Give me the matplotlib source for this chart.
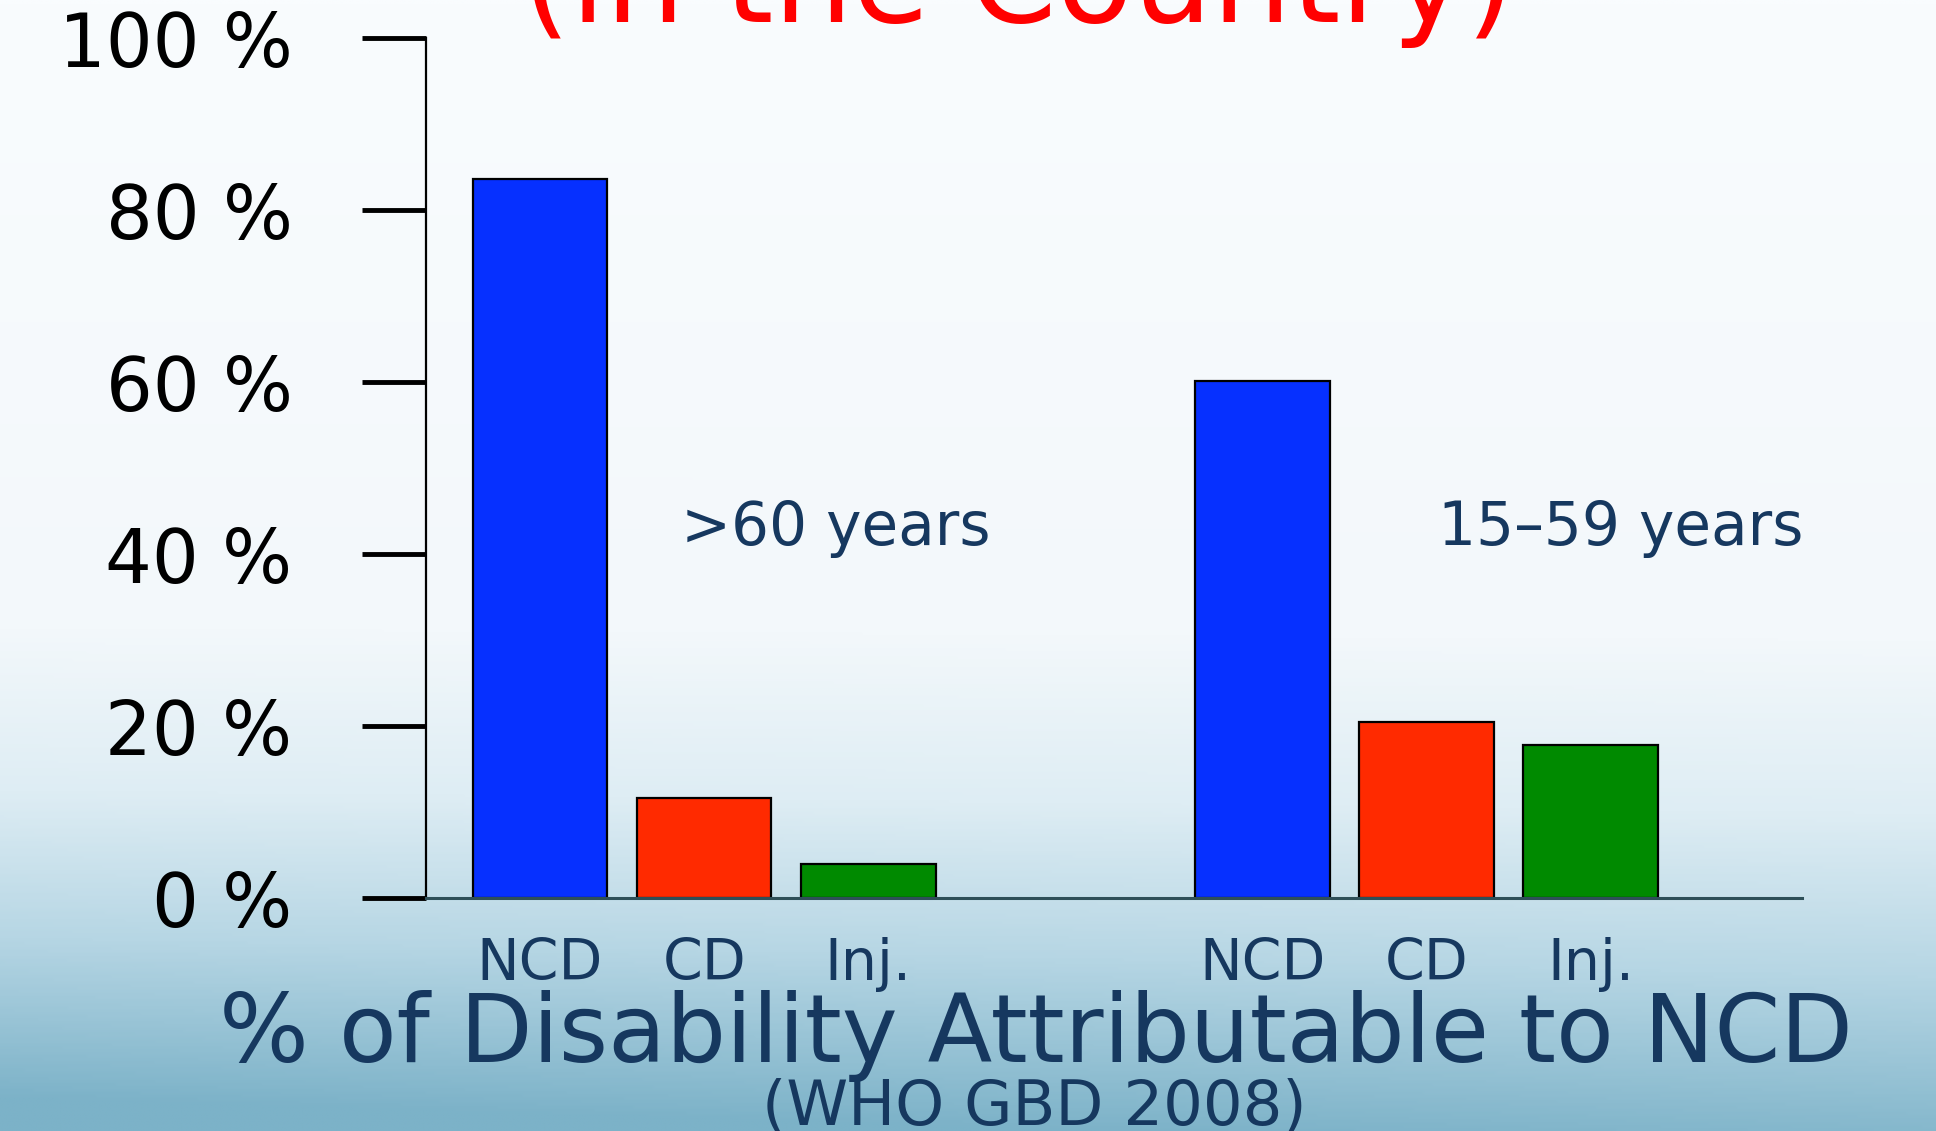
import matplotlib.pyplot as plt
import numpy as np
from matplotlib.colors import LinearSegmentedColormap

# data
categories = ["NCD", "CD", "Inj."]
groups = [">60 years", "15\u201359 years"]
over_60 = [83.6, 11.6, 3.9]
age_15_59 = [60.1, 20.5, 17.8]
group_pos = [0.0, 4.4]
yticks = [0, 20, 40, 60, 80, 100]
ytick_labels = ["0 %", "20 %", "40 %", "60 %", "80 %", "100 %"]
bar_colors = ["#0630ff", "#ff2a00", "#008a00"]
navy = "#16385f"

plt.rcParams['font.family'] = ['DejaVu Sans']

fig = plt.figure(figsize=(19.36, 11.31), dpi=100)

# slide background: pale at top, turning blue toward the bottom
bg = fig.add_axes([0, 0, 1, 1], zorder=-10)
bg.axis("off")
cmap = LinearSegmentedColormap.from_list(
    "slide", [(0.0, "#f9fcfe"), (0.55, "#f3f8fb"), (0.70, "#deedf4"),
              (0.84, "#b6d6e4"), (1.0, "#7cb2c8")])
yy, xx = np.mgrid[0:1:400j, 0:1:400j]
shade = yy + 0.06 * (1 - xx) * yy ** 3
bg.imshow(shade, cmap=cmap, aspect="auto", extent=[0, 1, 1, 0], vmin=0, vmax=1.03)
bg.set_xlim(0, 1)
bg.set_ylim(1, 0)

ax = fig.add_axes([0.220, 0.206, 0.711, 0.760])
ax.patch.set_alpha(0)

x1 = [group_pos[0] + i for i in range(3)]
x2 = [group_pos[1] + i for i in range(3)]
ax.bar(x1, over_60, width=0.82, color=bar_colors, edgecolor="black", linewidth=1.6)
ax.bar(x2, age_15_59, width=0.82, color=bar_colors, edgecolor="black", linewidth=1.6)

ax.set_xlim(-0.695, 7.69)
ax.set_ylim(0, 100)
ax.spines["top"].set_visible(False)
ax.spines["right"].set_visible(False)
ax.spines["left"].set_linewidth(1.6)
ax.spines["bottom"].set_color("#2e4f58")
ax.spines["bottom"].set_linewidth(2.2)

ax.set_yticks(yticks)
ax.set_yticklabels(ytick_labels)
ax.tick_params(axis="y", length=46, width=3.5, pad=50, labelsize=53, colors="black")
ax.set_xticks(x1 + x2)
ax.set_xticklabels(categories + categories)
ax.tick_params(axis="x", length=0, pad=28, labelsize=41, labelcolor=navy)

ax.text(1.8, 43, groups[0], fontsize=43, color=navy, ha="center", va="center")
ax.text(6.58, 43, groups[1], fontsize=43, color=navy, ha="center", va="center")

fig.text(0.526, 0.9805, "(in the Country)", fontsize=90, color="#ff0000",
         ha="center", va="baseline")
fig.text(0.535, 0.061, "% of Disability Attributable to NCD", fontsize=68,
         color=navy, ha="center", va="baseline")
fig.text(0.534, 0.006, "(WHO GBD 2008)", fontsize=45, color=navy,
         ha="center", va="baseline")

plt.savefig("out.png", dpi=100)
